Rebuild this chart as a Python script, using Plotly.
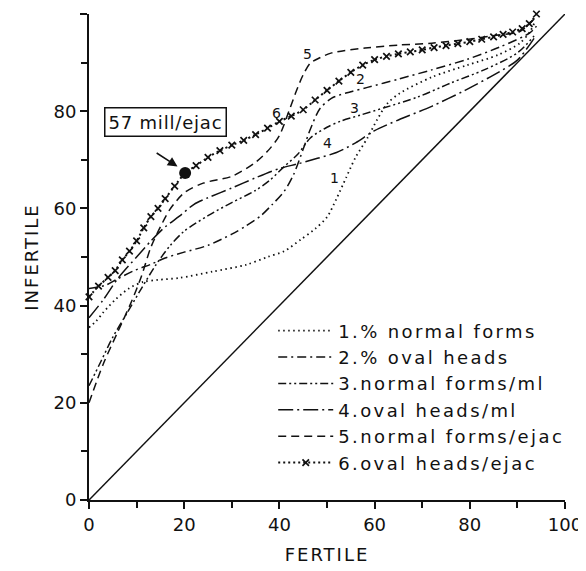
import plotly.graph_objects as go

# ---------------- data ----------------
c1_x = [0, 1.5, 3, 5.5, 8.5, 11.5, 14.5, 19, 26, 33, 37.5, 41, 44.5, 47.5, 50, 52, 54, 56, 58.5, 60.5, 62.6, 65.3, 72, 79.5, 86, 90.5, 92.6, 93.5]
c1_y = [35.5, 36.8, 38.6, 41.2, 43.6, 44.9, 45.3, 45.7, 47, 48.4, 50, 51.2, 53.6, 55.8, 58.2, 62, 66.3, 70.5, 74.5, 78.2, 81.5, 83.7, 87, 89.5, 91.6, 94, 96.3, 98]

c2_x = [0, 3.5, 6, 9.7, 13, 16, 20, 25, 30, 33, 36, 38.5, 41, 43, 45, 46.5, 48.5, 51, 55, 58.5, 65, 72, 79.5, 86.3, 92.6, 94]
c2_y = [43.5, 44.2, 45.5, 47.3, 48.5, 49.8, 51, 52.4, 54.7, 56.4, 58.4, 60.8, 63.5, 67, 72.2, 76.3, 80.5, 82.7, 84, 84.9, 86.6, 88.5, 90.7, 93.2, 96.1, 97.5]

c3_x = [0, 2.5, 5, 8, 11, 14, 17, 20, 25, 30, 35, 38, 41, 44, 46.5, 50, 53, 57, 62, 69, 76, 83, 90, 93.5]
c3_y = [23.5, 28.5, 33.5, 38.5, 43.5, 48.3, 52.3, 55.3, 58.5, 61.2, 63.7, 65.8, 68.6, 71.3, 74.5, 76.7, 78, 79.2, 80.7, 82.9, 85.8, 88.5, 92, 95.5]

c4_x = [0, 3, 6, 10, 13, 16, 19, 22, 25, 30, 35, 40, 44, 48, 52, 56, 60, 65, 72, 79, 86, 90, 93.5]
c4_y = [37.5, 41.2, 45.5, 50, 53.3, 56.2, 58.4, 60.8, 62.2, 64.2, 66.3, 68.2, 69.2, 70.3, 71.5, 73.5, 76, 78.2, 81, 84.3, 88, 90.5, 95]

c5_x = [0, 3, 6, 9, 11, 13, 15, 17, 20, 24, 30, 35, 38, 40, 42, 43.5, 45, 46.5, 48.5, 51, 58, 65, 72, 79, 86, 90.5, 94]
c5_y = [20, 28, 34.5, 41, 46, 52, 56.2, 59.8, 63.2, 65.2, 66.6, 69.5, 72.3, 75, 80, 84, 87.5, 89.9, 91, 92, 93, 93.6, 94, 94.7, 95.7, 96.4, 99.5]

c6_x = [0, 2, 4, 5.5, 7, 8.5, 10, 11.5, 13, 14.5, 16, 18, 20.2, 22.5, 25, 27.5, 30, 32.5, 35, 37.5, 40, 42.5, 45, 47.5, 50, 52.5, 55, 57.5, 60, 62.5, 65, 67.5, 70, 72.5, 75, 77.5, 80, 82.5, 85, 87, 89, 91, 92.5, 94]
c6_y = [41.8, 44, 45.8, 47.2, 49.4, 51.2, 53.3, 56, 58.3, 60, 62, 64.6, 67.3, 68.8, 70.5, 71.9, 73, 74, 75.2, 76.5, 77.9, 79, 80.3, 82.3, 84.3, 86.2, 88, 89.5, 90.6, 91.3, 91.8, 92.2, 92.6, 93.1, 93.5, 93.9, 94.3, 94.8, 95.3, 95.8, 96.3, 97, 98, 100]

diag_x = [0, 100]
diag_y = [0, 100]

dot_x = [20.2]
dot_y = [67.3]

series_names = ["1.% normal forms", "2.% oval heads", "3.normal forms/ml",
                "4.oval heads/ml", "5.normal forms/ejac", "6.oval heads/ejac"]

label_text = ["1", "2", "3", "4", "5", "6"]
label_x = [51.5, 57.0, 55.8, 50.0, 45.8, 39.3]
label_y = [66.3, 86.6, 80.6, 73.4, 91.8, 79.6]

x_ticks = [0, 20, 40, 60, 80, 100]
y_ticks = [0, 20, 40, 60, 80, 100]

annot_text = "57 mill/ejac"
x_title = "FERTILE"
y_title = "INFERTILE"

# ---------------- figure ----------------
FONT = "DejaVu Sans"
BLACK = "#111111"


def spaced(s, px=2.4):
    return '<span style="letter-spacing:%gpx">%s</span>' % (px, s)


fig = go.Figure()

fig.add_trace(go.Scatter(x=diag_x, y=diag_y, mode="lines",
                         line=dict(color=BLACK, width=1.5), showlegend=False,
                         hoverinfo="skip"))

styles = [
    dict(dash="1.5px,3.5px", width=1.8),
    dict(dash="9px,4px,2px,4px", width=1.5),
    dict(dash="8px,3px,2px,3px,2px,3px", width=1.5),
    dict(dash="15px,4px,2px,4px", width=1.5),
    dict(dash="8px,5px", width=1.5),
]
xs = [c1_x, c2_x, c3_x, c4_x, c5_x]
ys = [c1_y, c2_y, c3_y, c4_y, c5_y]
for i in range(5):
    fig.add_trace(go.Scatter(x=xs[i], y=ys[i], mode="lines", name=spaced(series_names[i]),
                             line=dict(color=BLACK, shape="spline", smoothing=0.8, **styles[i]),
                             cliponaxis=False))

fig.add_trace(go.Scatter(x=c6_x, y=c6_y, mode="lines+markers", name=spaced(series_names[5]),
                         line=dict(color=BLACK, shape="spline", smoothing=0.8, dash="2px,3px", width=2),
                         marker=dict(symbol="x-thin", size=6.5, line=dict(color=BLACK, width=1.7)),
                         cliponaxis=False))

fig.add_trace(go.Scatter(x=dot_x, y=dot_y, mode="markers", showlegend=False,
                         marker=dict(symbol="circle", size=12, color=BLACK),
                         cliponaxis=False))

# curve number labels
for t, lx, ly in zip(label_text, label_x, label_y):
    fig.add_annotation(x=lx, y=ly, text=t, showarrow=False,
                       font=dict(family=FONT, size=14, color=BLACK))

# boxed annotation + arrow
fig.add_annotation(x=16.1, y=77.8, text=spaced(annot_text, 0.8), showarrow=False,
                   font=dict(family=FONT, size=18, color=BLACK),
                   bordercolor=BLACK, borderwidth=1.5, borderpad=3, bgcolor="white")
fig.add_annotation(x=18.6, y=68.6, ax=13.9, ay=71.6, axref="x", ayref="y",
                   text="", showarrow=True, arrowhead=2, arrowsize=1.3,
                   arrowwidth=1.5, arrowcolor=BLACK)

# the page body keeps the browser's default 8px margin, so the margins below
# are shifted by 8px to put the axes where they sit in the reference
fig.update_layout(
    width=586, height=571, autosize=False,
    margin=dict(l=81, r=29, t=6, b=79, autoexpand=False),
    paper_bgcolor="white", plot_bgcolor="white",
    font=dict(family=FONT, size=17, color=BLACK),
    showlegend=True,
    legend=dict(x=0.387, y=0.386, xanchor="left", yanchor="top",
                bgcolor="rgba(0,0,0,0)", itemwidth=55,
                font=dict(family=FONT, size=18, color=BLACK),
                tracegroupgap=0),
)

fig.update_xaxes(range=[0, 100], tickvals=x_ticks, showgrid=False, zeroline=False,
                 automargin=False,
                 showline=True, linecolor=BLACK, linewidth=2,
                 ticks="outside", ticklen=7, tickwidth=1.5, tickcolor=BLACK,
                 minor=dict(ticks="outside", dtick=10, ticklen=6, tickwidth=1.5, tickcolor=BLACK),
                 title=dict(text=spaced(x_title, 2), standoff=15, font=dict(family=FONT, size=18)),
                 tickfont=dict(family=FONT, size=18))
fig.update_yaxes(range=[0, 100], tickvals=y_ticks, showgrid=False, zeroline=False,
                 automargin=False,
                 showline=True, linecolor=BLACK, linewidth=2,
                 ticks="outside", ticklen=7, tickwidth=1.5, tickcolor=BLACK,
                 minor=dict(ticks="outside", dtick=10, ticklen=6, tickwidth=1.5, tickcolor=BLACK),
                 title=dict(text=spaced(y_title, 2), standoff=10, font=dict(family=FONT, size=18)),
                 tickfont=dict(family=FONT, size=18))

fig.write_html("out.html")
